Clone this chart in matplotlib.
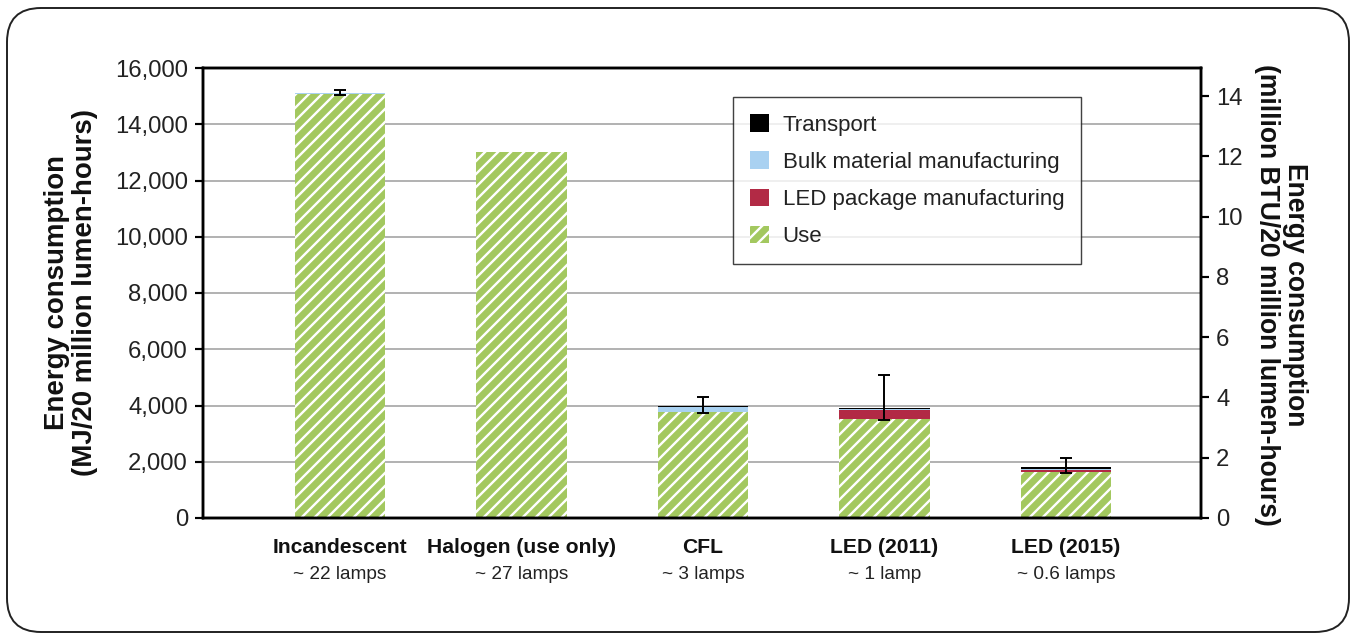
import numpy as np
import matplotlib
matplotlib.use("Agg")
import matplotlib.pyplot as plt
from matplotlib.patches import Patch, FancyBboxPatch

plt.rcParams['font.family'] = ['Liberation Sans', 'DejaVu Sans']
plt.rcParams['hatch.linewidth'] = 2.2

# data (MJ / 20 million lumen-hours)
categories = ['Incandescent', 'Halogen (use only)', 'CFL', 'LED (2011)', 'LED (2015)']
lamps = ['~ 22 lamps', '~ 27 lamps', '~ 3 lamps', '~ 1 lamp', '~ 0.6 lamps']
use = [15070, 13000, 3780, 3510, 1625]
led_pkg = [0, 0, 0, 330, 70]
bulk = [40, 0, 175, 35, 60]
transport = [0, 0, 30, 25, 45]
err_low = [70, 0, 240, 415, 190]
err_high = [110, 0, 330, 1185, 320]

green = '#a3c85f'
blue = '#a9d1f1'
red = '#b22a45'

DPI = 78
fig = plt.figure(figsize=(1355 / DPI, 635 / DPI), dpi=DPI)

# rounded frame around the whole picture
bg = fig.add_axes([0, 0, 1, 1], zorder=-10)
bg.set_xlim(0, 1355)
bg.set_ylim(0, 635)
bg.axis('off')
bg.add_patch(FancyBboxPatch((7, 3), 1342, 624,
                            boxstyle='round,pad=0,rounding_size=34',
                            fc='white', ec='#222222', lw=1.8))

ax = fig.add_axes([203 / 1355, (635 - 518) / 635, 998 / 1355, 450 / 635])
ax.patch.set_alpha(0)

x = np.arange(len(categories))
w = 0.5
use_a = np.array(use)
pkg_a = np.array(led_pkg)
bulk_a = np.array(bulk)
tr_a = np.array(transport)

ax.bar(x, use_a, w, color=green, edgecolor='white', linewidth=0, hatch='//', zorder=2)
ax.bar(x, pkg_a, w, bottom=use_a, color=red, linewidth=0, zorder=2)
ax.bar(x, bulk_a, w, bottom=use_a + pkg_a, color=blue, linewidth=0, zorder=2)
ax.bar(x, tr_a, w, bottom=use_a + pkg_a + bulk_a, color='black', linewidth=0, zorder=2)

total = use_a + pkg_a + bulk_a + tr_a
has_err = (np.array(err_low) + np.array(err_high)) > 0
ax.errorbar(x[has_err], total[has_err],
            yerr=[np.array(err_low)[has_err], np.array(err_high)[has_err]],
            fmt='none', ecolor='black', elinewidth=1.8, capsize=5.5,
            capthick=1.8, zorder=3)

ax.set_xlim(-0.755, 4.744)
ax.set_ylim(0, 16000)
ax.set_yticks(np.arange(0, 16001, 2000))
ax.set_yticklabels(['{:,}'.format(v) for v in range(0, 16001, 2000)])
ax.set_xticks([])
ax.yaxis.grid(True, color='#9b9b9b', lw=1.4)
ax.set_axisbelow(True)
ax.tick_params(axis='y', labelsize=22, length=7.4, width=2.0, pad=6.5,
               colors='black', labelcolor='#222222')
for s in ax.spines.values():
    s.set_linewidth(2.3)

ax2 = ax.twinx()
ax2.set_ylim(0, 14.93)
ax2.set_yticks(np.arange(0, 15, 2))
ax2.tick_params(axis='y', labelsize=22, length=7.4, width=2.0, pad=6.5,
                labelcolor='#222222')
for s in ax2.spines.values():
    s.set_linewidth(2.3)

# category labels under the bars
for i in range(len(categories)):
    ax.text(x[i], -0.066, categories[i], transform=ax.get_xaxis_transform(),
            ha='center', va='center', fontsize=19.5, fontweight='bold',
            color='#111111')
    ax.text(x[i], -0.125, lamps[i], transform=ax.get_xaxis_transform(),
            ha='center', va='center', fontsize=17.5, color='#222222')

fig.text(71 / 1355, (635 - 293) / 635,
         'Energy consumption\n(MJ/20 million lumen-hours)',
         rotation=90, ha='center', va='center', fontsize=25.5,
         fontweight='bold', color='#111111', linespacing=1.1)
fig.text(1281 / 1355, (635 - 295) / 635,
         'Energy consumption\n(million BTU/20 million lumen-hours)',
         rotation=270, ha='center', va='center', fontsize=24.5,
         fontweight='bold', color='#111111', linespacing=1.15)

handles = [Patch(facecolor='black', linewidth=0),
           Patch(facecolor=blue, linewidth=0),
           Patch(facecolor=red, linewidth=0),
           Patch(facecolor=green, edgecolor='white', linewidth=0, hatch='//')]
labels = ['Transport', 'Bulk material manufacturing',
          'LED package manufacturing', 'Use']
leg = ax2.legend(handles, labels, loc='upper left',
                 bbox_to_anchor=((733 - 203) / 998, (518 - 97) / 450),
                 borderaxespad=0, fontsize=20.5, frameon=True, fancybox=False,
                 handlelength=0.85, handleheight=0.85, handletextpad=0.6,
                 labelspacing=0.7, borderpad=0.78, labelcolor='#222222')
leg.get_frame().set_edgecolor('#111111')
leg.get_frame().set_linewidth(1.3)

fig.savefig('out.png', dpi=DPI)
